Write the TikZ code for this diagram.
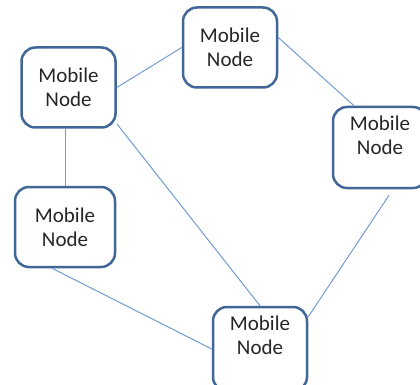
\documentclass[tikz,border=0pt]{standalone}
\usepackage{fontspec}
\setmainfont{Carlito}
\definecolor{boxblue}{RGB}{65,103,152}
\definecolor{linkblue}{RGB}{115,155,212}

\begin{document}
\begin{tikzpicture}
[
    x=1pt, y=-1pt,
    mnode/.style={draw=boxblue, line width=2.5pt, rounded corners=14pt, fill=white,
        minimum width=94pt, minimum height=80pt, inner sep=0pt, align=center,
        font=\fontsize{21}{24}\selectfont, text=black!85},
    toptext/.style={label={[align=center, yshift=#1, text=black!85,
        font=\fontsize{21}{24}\selectfont]center:Mobile\\Node}},
    link/.style={draw=linkblue, line width=1pt},
]
\useasboundingbox (0,0) rectangle (420,385);
\node [mnode] (a) at (68.5,87.5) {Mobile\\Node};
\node [mnode] (b) at (230,47.5) {Mobile\\Node};
\node [mnode, minimum height=81pt, toptext=12pt] (c) at (380,147.5) {};
\node [mnode, minimum width=100pt] (d) at (65,227) {Mobile\\Node};
\node [mnode, minimum height=84pt, toptext=14pt] (e) at (260,349) {};

\draw [link] (a.east) -- (b.west);
\draw [link] ([yshift=10pt]b.east) -- ([xshift=-26pt]c.north);
\draw [link] (d.north) -- (d.north |- a.south);
\draw [link] ([yshift=5pt]a.south east) -- (e.north);
\draw [link] ([xshift=-13pt]d.south) -- (e.west);
\draw [link] ([shift={(9pt,-6pt)}]c.south) -- ([yshift=-11pt]e.north east);
\end{tikzpicture}
\end{document}
